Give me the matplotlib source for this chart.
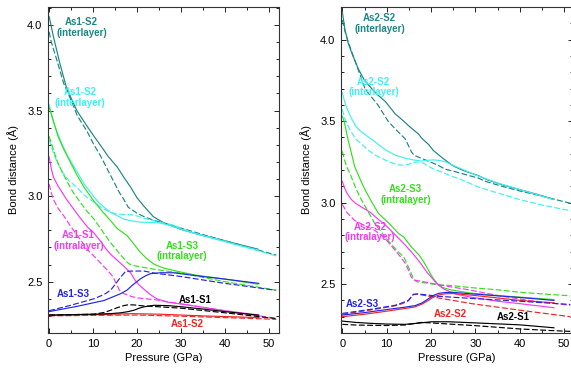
import numpy as np
import matplotlib.pyplot as plt
from matplotlib.ticker import MultipleLocator

plt.rcParams['font.family'] = ['Liberation Sans', 'DejaVu Sans']

teal = '#1f8585'
cyan = '#3ff0f0'
green = '#33e01a'
magenta = '#f23cf2'
blue = '#2424e6'
red = '#f22424'
black = '#000000'

# ---- As1 panel (left) ----
p1_teal_s = [0, 1, 2.5, 4, 6.3, 8.6, 10.2, 11.6, 13.5, 15.5, 17, 18.6, 20, 21.6, 23.7, 26, 29.8, 34.3, 41.9, 47.5]
d1_teal_s = [4.05, 3.93, 3.77, 3.63, 3.50, 3.41, 3.35, 3.30, 3.23, 3.17, 3.11, 3.05, 2.99, 2.94, 2.88, 2.845, 2.807, 2.774, 2.726, 2.69]
p1_teal_d = [0, 0.5, 1.7, 3.3, 5.5, 6.4, 8.6, 10.2, 11.6, 14, 16, 17, 18, 20, 22, 24.6, 28.4, 35, 42, 51.7]
d1_teal_d = [3.96, 3.90, 3.80, 3.66, 3.53, 3.47, 3.38, 3.30, 3.24, 3.12, 3.02, 2.98, 2.935, 2.90, 2.875, 2.853, 2.825, 2.775, 2.725, 2.655]

p1_cyan_s = [0, 1, 1.9, 3, 4.2, 6.4, 8, 9.5, 11, 12.5, 14, 15.5, 17, 18.6, 20, 21.6, 23, 24.6, 26.5, 28.4, 30, 35, 42, 47.5]
d1_cyan_s = [3.535, 3.43, 3.37, 3.30, 3.235, 3.14, 3.07, 3.02, 2.97, 2.935, 2.905, 2.886, 2.865, 2.856, 2.85, 2.847, 2.846, 2.845, 2.835, 2.822, 2.807, 2.77, 2.72, 2.685]
p1_cyan_d = [0, 1, 2, 3, 4.5, 6.4, 8, 10.2, 12, 14, 15.5, 17, 18.5, 20, 22, 23.9, 26, 28.4, 32, 40, 51.7]
d1_cyan_d = [3.33, 3.25, 3.19, 3.14, 3.09, 3.05, 3.005, 2.965, 2.93, 2.905, 2.895, 2.893, 2.892, 2.884, 2.868, 2.856, 2.843, 2.83, 2.79, 2.735, 2.65]

p1_green_s = [0, 1.1, 2, 3.4, 5, 6.4, 8, 10.2, 12.3, 14, 15.5, 17.7, 18.5, 20.7, 22.2, 23.7, 24.5, 26, 28.3, 30, 33.6, 40, 47.5]
d1_green_s = [3.52, 3.43, 3.35, 3.27, 3.19, 3.12, 3.05, 2.97, 2.905, 2.856, 2.81, 2.77, 2.745, 2.673, 2.635, 2.605, 2.595, 2.58, 2.566, 2.556, 2.537, 2.515, 2.485]
p1_green_d = [0, 1, 1.9, 3, 4.2, 5.5, 7.2, 8.5, 10.2, 12, 13.9, 15.5, 17, 17.8, 18.5, 20, 24.5, 30, 40, 51.7]
d1_green_d = [3.35, 3.27, 3.20, 3.14, 3.08, 3.02, 2.96, 2.915, 2.866, 2.80, 2.73, 2.68, 2.635, 2.612, 2.60, 2.59, 2.57, 2.55, 2.50, 2.45]

p1_magenta_s = [0, 0.5, 1, 2, 3, 4, 5.7, 7, 8.7, 10, 11.6, 13, 14, 15.5, 17, 18.6, 19.5, 20.5, 21.6, 23, 24.5, 27, 30, 35, 40, 47.7]
d1_magenta_s = [3.23, 3.16, 3.11, 3.06, 3.02, 2.98, 2.92, 2.875, 2.82, 2.79, 2.74, 2.69, 2.66, 2.625, 2.59, 2.55, 2.51, 2.48, 2.455, 2.425, 2.40, 2.38, 2.37, 2.35, 2.33, 2.305]
p1_magenta_d = [0, 0.5, 1, 2, 3.3, 5, 7, 9, 10.8, 12, 13.3, 14.5, 16, 17, 18.6, 20, 22, 24, 30, 40, 51.7]
d1_magenta_d = [3.07, 3.02, 2.98, 2.93, 2.886, 2.82, 2.75, 2.68, 2.634, 2.60, 2.566, 2.53, 2.45, 2.43, 2.415, 2.405, 2.40, 2.395, 2.37, 2.33, 2.285]

p1_blue_s = [0, 6.4, 12.5, 16.3, 17.7, 18.9, 20.8, 22, 23.1, 25.4, 28.3, 35, 40, 47.7]
d1_blue_s = [2.325, 2.356, 2.39, 2.43, 2.45, 2.478, 2.517, 2.535, 2.547, 2.552, 2.552, 2.53, 2.515, 2.49]
p1_blue_d = [0, 4.9, 10.2, 12.5, 14, 15.2, 16.3, 17.4, 19, 21.6, 23.9, 30, 40, 51.5]
d1_blue_d = [2.33, 2.362, 2.40, 2.425, 2.45, 2.49, 2.527, 2.56, 2.562, 2.562, 2.55, 2.53, 2.49, 2.45]

p1_black_s = [0, 5, 10.2, 14, 16.3, 18, 19.3, 20.5, 21.6, 23.9, 27, 29.8, 35, 40, 47.7]
d1_black_s = [2.305, 2.307, 2.31, 2.313, 2.318, 2.325, 2.333, 2.345, 2.353, 2.362, 2.36, 2.354, 2.34, 2.325, 2.304]
p1_black_d = [0, 5, 10.2, 12.5, 14, 15.5, 17, 18, 19.3, 21.6, 23.9, 30, 40, 51.5]
d1_black_d = [2.305, 2.307, 2.31, 2.32, 2.333, 2.348, 2.36, 2.365, 2.364, 2.358, 2.355, 2.345, 2.318, 2.285]

p1_red_s = [0, 10, 19, 25, 35, 47.7]
d1_red_s = [2.303, 2.307, 2.313, 2.31, 2.30, 2.29]
p1_red_d = [0, 10, 20, 30, 40, 51.7]
d1_red_d = [2.30, 2.303, 2.305, 2.298, 2.29, 2.28]

# ---- As2 panel (right) ----
p2_teal_s = [0, 0.6, 1.3, 2.1, 3.6, 5, 6.6, 8, 9.7, 11.9, 13.4, 15, 17.2, 17.9, 19.5, 20.5, 21.7, 23, 25, 27, 28, 30.7, 32.7, 36, 40.2, 44, 47.5]
d2_teal_s = [4.17, 4.06, 3.98, 3.92, 3.82, 3.75, 3.70, 3.66, 3.62, 3.545, 3.51, 3.47, 3.42, 3.395, 3.355, 3.32, 3.293, 3.265, 3.225, 3.20, 3.19, 3.165, 3.14, 3.11, 3.078, 3.05, 3.02]
p2_teal_d = [0, 0.6, 1.4, 3.3, 5.1, 5.9, 8, 10.3, 12, 14.2, 15.6, 16.2, 18.7, 21.5, 23.2, 25.4, 28, 30.7, 32.3, 36, 40.2, 45, 51.5]
d2_teal_d = [4.12, 4.05, 3.98, 3.836, 3.70, 3.67, 3.60, 3.50, 3.45, 3.39, 3.31, 3.29, 3.262, 3.23, 3.205, 3.19, 3.17, 3.15, 3.13, 3.10, 3.07, 3.04, 2.995]

p2_cyan_s = [0, 0.5, 1, 2, 3, 4, 5.5, 7.5, 9.7, 12, 14.1, 16, 17.9, 19.5, 20.6, 22, 23.2, 25, 27, 30, 35, 40, 47.5]
d2_cyan_s = [3.675, 3.62, 3.58, 3.52, 3.47, 3.44, 3.41, 3.37, 3.324, 3.29, 3.273, 3.262, 3.255, 3.26, 3.262, 3.258, 3.25, 3.228, 3.205, 3.17, 3.12, 3.08, 3.02]
p2_cyan_d = [0, 0.5, 1.3, 2.1, 3, 4.3, 5.9, 7.5, 8.8, 10.5, 12.6, 14, 14.9, 16, 16.8, 18, 19, 20.2, 21.7, 24.8, 26.2, 30.7, 32.7, 40.2, 45, 51.5]
d2_cyan_d = [3.573, 3.52, 3.47, 3.43, 3.39, 3.36, 3.32, 3.29, 3.273, 3.25, 3.232, 3.228, 3.235, 3.246, 3.25, 3.245, 3.23, 3.211, 3.195, 3.16, 3.148, 3.095, 3.078, 3.017, 2.985, 2.95]

p2_green_s = [0, 0.4, 1.3, 2.8, 4.4, 5.1, 6.3, 8.1, 10.8, 12.7, 13.8, 15.5, 17.4, 18.5, 19.8, 20.6, 21.4, 22.5, 24.4, 28.9, 35, 40, 47.7]
d2_green_s = [3.53, 3.50, 3.385, 3.22, 3.12, 3.08, 3.02, 2.935, 2.865, 2.81, 2.79, 2.73, 2.675, 2.63, 2.566, 2.53, 2.504, 2.48, 2.465, 2.445, 2.43, 2.42, 2.405]
p2_green_d = [0, 0.5, 1, 2, 3, 4.3, 5.9, 7.3, 8.5, 9.6, 11.2, 12.5, 13.8, 14.5, 15.3, 16.1, 16.7, 18, 20.9, 25, 29.2, 35, 40, 45, 51.4]
d2_green_d = [3.314, 3.26, 3.22, 3.16, 3.09, 3.017, 2.94, 2.873, 2.83, 2.79, 2.74, 2.70, 2.668, 2.63, 2.58, 2.53, 2.515, 2.51, 2.498, 2.49, 2.478, 2.465, 2.45, 2.44, 2.428]

p2_magenta_s = [0, 0.5, 1, 2, 3, 4.5, 6.3, 8, 10, 12, 13.8, 15.5, 17.6, 19, 20.6, 21.6, 22.9, 24.5, 26.2, 29, 35, 40, 47.7]
d2_magenta_s = [3.13, 3.09, 3.06, 3.02, 2.995, 2.97, 2.94, 2.90, 2.855, 2.80, 2.75, 2.70, 2.63, 2.575, 2.525, 2.495, 2.47, 2.45, 2.435, 2.42, 2.395, 2.38, 2.355]
p2_magenta_d = [0, 1, 2.8, 5, 7.3, 9.3, 11.2, 13.1, 14.2, 14.9, 15.5, 16.1, 18.3, 22.1, 28.9, 35, 42, 51.4]
d2_magenta_d = [2.99, 2.94, 2.89, 2.86, 2.83, 2.79, 2.73, 2.668, 2.627, 2.586, 2.545, 2.525, 2.515, 2.494, 2.463, 2.43, 2.40, 2.37]

p2_blue_s = [0, 5, 10.3, 14, 16.4, 18, 19.4, 20.5, 21.7, 23, 24.7, 29.2, 35, 40, 47.7]
d2_blue_s = [2.31, 2.325, 2.345, 2.358, 2.368, 2.385, 2.41, 2.43, 2.443, 2.448, 2.45, 2.44, 2.428, 2.418, 2.40]
p2_blue_d = [0, 6.6, 11.9, 13.5, 14.9, 15.5, 16, 17, 18.6, 21.7, 29.2, 40, 51.4]
d2_blue_d = [2.32, 2.346, 2.37, 2.385, 2.40, 2.42, 2.437, 2.44, 2.435, 2.425, 2.412, 2.395, 2.375]

p2_red_s = [0, 5, 10.3, 14, 16.4, 18, 19.4, 20.5, 21.7, 23, 24.7, 29.2, 35, 40, 47.7]
d2_red_s = [2.30, 2.315, 2.335, 2.35, 2.36, 2.378, 2.40, 2.42, 2.433, 2.44, 2.442, 2.432, 2.415, 2.40, 2.385]
p2_red_d = [0, 6.6, 11.9, 13.5, 14.9, 15.5, 16, 17, 18.6, 21.7, 29.2, 40, 51.4]
d2_red_d = [2.315, 2.342, 2.367, 2.38, 2.398, 2.42, 2.436, 2.438, 2.43, 2.415, 2.38, 2.34, 2.30]

p2_black_s = [0, 3, 6.6, 10, 14.1, 17, 20.1, 23.9, 30, 40, 47.7]
d2_black_s = [2.273, 2.265, 2.259, 2.255, 2.253, 2.26, 2.269, 2.269, 2.262, 2.25, 2.232]
p2_black_d = [0, 3, 6.6, 10, 14.1, 16, 17.9, 21.7, 30, 40, 47, 51.4]
d2_black_d = [2.253, 2.249, 2.247, 2.246, 2.249, 2.257, 2.265, 2.259, 2.245, 2.225, 2.215, 2.21]

labels1 = [('As1-S2\n(interlayer)', 7.4, 3.985, teal),
           ('As1-S2\n(interlayer)', 7.0, 3.575, cyan),
           ('As1-S1\n(intralayer)', 6.7, 2.74, magenta),
           ('As1-S3\n(intralayer)', 30.2, 2.68, green),
           ('As1-S3', 5.5, 2.425, blue),
           ('As1-S1', 33.2, 2.395, black),
           ('As1-S2', 31.5, 2.25, red)]
labels2 = [('As2-S2\n(interlayer)', 8.4, 4.10, teal),
           ('As2-S2\n(interlayer)', 7.0, 3.71, cyan),
           ('As2-S3\n(intralayer)', 14.2, 3.05, green),
           ('As2-S2\n(intralayer)', 6.3, 2.82, magenta),
           ('As2-S3', 4.5, 2.38, blue),
           ('As2-S2', 24.3, 2.315, red),
           ('As2-S1', 38.5, 2.30, black)]

fig = plt.figure(figsize=(5.71, 3.76), dpi=100)
ax1 = fig.add_axes([48/571, 43/376, 231/571, 326/376])
ax2 = fig.add_axes([341/571, 43/376, 232/571, 326/376])

dash = (0, (5, 2))
curves1 = [(p1_teal_s, d1_teal_s, teal, '-'), (p1_teal_d, d1_teal_d, teal, dash),
           (p1_cyan_s, d1_cyan_s, cyan, '-'), (p1_cyan_d, d1_cyan_d, cyan, dash),
           (p1_green_s, d1_green_s, green, '-'), (p1_green_d, d1_green_d, green, dash),
           (p1_magenta_s, d1_magenta_s, magenta, '-'), (p1_magenta_d, d1_magenta_d, magenta, dash),
           (p1_red_s, d1_red_s, red, '-'), (p1_red_d, d1_red_d, red, dash),
           (p1_black_s, d1_black_s, black, '-'), (p1_black_d, d1_black_d, black, dash),
           (p1_blue_s, d1_blue_s, blue, '-'), (p1_blue_d, d1_blue_d, blue, dash)]
curves2 = [(p2_teal_s, d2_teal_s, teal, '-'), (p2_teal_d, d2_teal_d, teal, dash),
           (p2_cyan_s, d2_cyan_s, cyan, '-'), (p2_cyan_d, d2_cyan_d, cyan, dash),
           (p2_green_s, d2_green_s, green, '-'), (p2_green_d, d2_green_d, green, dash),
           (p2_magenta_s, d2_magenta_s, magenta, '-'), (p2_magenta_d, d2_magenta_d, magenta, dash),
           (p2_red_s, d2_red_s, red, '-'), (p2_red_d, d2_red_d, red, dash),
           (p2_black_s, d2_black_s, black, '-'), (p2_black_d, d2_black_d, black, dash),
           (p2_blue_s, d2_blue_s, blue, '-'), (p2_blue_d, d2_blue_d, blue, dash)]

for ax, curves, labels, xl, yl in [(ax1, curves1, labels1, (-0.25, 52.3), (2.2, 4.105)),
                                   (ax2, curves2, labels2, (-0.3, 52.0), (2.2, 4.2))]:
    for p, d, c, ls in curves:
        ax.plot(p, d, color=c, linestyle=ls, linewidth=0.85)
    for txt, x, y, c in labels:
        ax.text(x, y, txt, color=c, fontsize=7, fontweight='bold',
                ha='center', va='center', linespacing=1.05)
    ax.set_xlim(xl)
    ax.set_ylim(yl)
    ax.xaxis.set_major_locator(MultipleLocator(10))
    ax.xaxis.set_minor_locator(MultipleLocator(5))
    ax.yaxis.set_major_locator(MultipleLocator(0.5))
    ax.yaxis.set_minor_locator(MultipleLocator(0.1))
    ax.tick_params(which='both', direction='in', top=True, right=True, labelsize=8, width=0.6)
    ax.tick_params(which='major', length=3.5, pad=4)
    ax.tick_params(which='minor', length=2.5)
    for s in ax.spines.values():
        s.set_linewidth(0.8)
        s.set_color('#333333')
    ax.set_xlabel('Pressure (GPa)', fontsize=8, labelpad=3)
    ax.set_ylabel('Bond distance (Å)', fontsize=8, labelpad=6)

plt.savefig('out.png', dpi=100)
plt.close()
